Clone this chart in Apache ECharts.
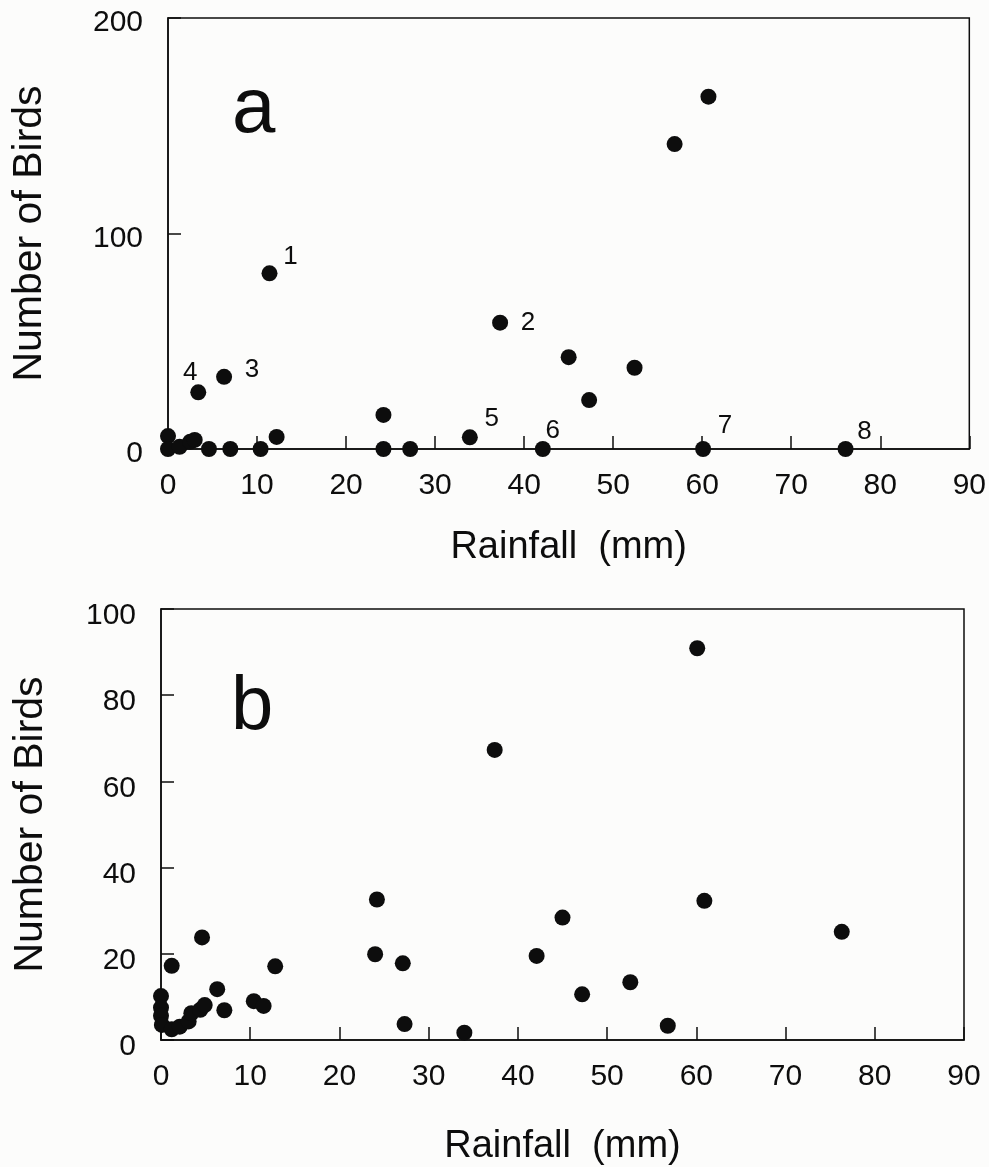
<!DOCTYPE html>
<html>
<head>
<meta charset="utf-8">
<script src="https://cdn.jsdelivr.net/npm/echarts@6/dist/echarts.min.js"></script>
<style>
html,body{margin:0;padding:0;background:#fcfcfb;}
#chart{width:989px;height:1167px;}
</style>
</head>
<body>
<div id="chart"></div>
<script>
// ---- Data ----
// Panel a: rainfall (mm) vs number of birds
const rainA  = [60.7, 56.9, 11.4, 37.3, 45.0, 52.4, 47.3, 6.3, 3.4, 24.2, 33.9, 12.2, 0, 0, 1.3, 2.5, 3.0, 4.6, 7.0, 10.4, 24.2, 27.2, 42.1, 60.1, 76.1];
const birdsA = [163.5, 141.5, 81.5, 58.6, 42.6, 37.7, 22.7, 33.5, 26.3, 15.8, 5.4, 5.6, 6.0, 0, 1, 3.4, 4.2, 0, 0, 0, 0, 0, 0, 0, 0];
const tagsA  = ['', '', '1', '2', '', '', '', '3', '4', '', '5', '', '', '', '', '', '', '', '', '', '', '', '6', '7', '8'];

// Panel b: rainfall (mm) vs number of birds
const rainB  = [60.1, 37.4, 24.2, 60.9, 45.0, 76.3, 4.6, 42.1, 24.0, 27.1, 1.2, 12.8, 52.6, 47.2, 6.3, 10.4, 11.5, 27.3, 34.0, 56.8, 0, 0, 0, 0.1, 1.2, 2.1, 3.1, 3.4, 4.4, 4.9, 7.1];
const birdsB = [90.9, 67.3, 32.6, 32.3, 28.4, 25.1, 23.8, 19.5, 19.9, 17.8, 17.2, 17.1, 13.4, 10.6, 11.8, 9.0, 7.9, 3.7, 1.7, 3.3, 10.2, 7.5, 5.6, 3.5, 2.5, 3.1, 4.3, 6.2, 7.0, 8.1, 6.9];

// Axis tick labels
const xTicks  = [0, 10, 20, 30, 40, 50, 60, 70, 80, 90];
const yTicksA = [0, 100, 200];
const yTicksB = [0, 20, 40, 60, 80, 100];

const xTitle = 'Rainfall  (mm)';
const yTitle = 'Number of Birds';
const panelNames = ['a', 'b'];

// ---- Styling (positions of the numbered annotations) ----
const tagOffset = {
  '1': [21, -17], '2': [28, 0], '3': [28, -7], '4': [-8, -19],
  '5': [22, -19], '6': [10, -18], '7': [22, -23], '8': [19, -17]
};

const FONT = '"Liberation Sans", Arial, Helvetica, sans-serif';
const INK = '#0d0d0d';

function pts(xs, ys, tags) {
  return xs.map((x, i) => {
    const item = { value: [x, ys[i]] };
    const t = tags && tags[i];
    if (t) {
      item.label = {
        show: true, formatter: t, position: 'inside', offset: tagOffset[t],
        color: INK, fontFamily: FONT, fontSize: 26, opacity: 1
      };
    }
    return item;
  });
}

function xAxis(gridIndex, ticks, margin, nameGap) {
  return {
    type: 'value', gridIndex, min: ticks[0], max: ticks[ticks.length - 1], interval: ticks[1] - ticks[0],
    axisLine: { show: true, lineStyle: { color: INK, width: 1.5 } },
    axisTick: { show: true, inside: true, length: 13, lineStyle: { color: INK, width: 1.5 } },
    axisLabel: { show: true, interval: 0, margin, color: INK, fontFamily: FONT, fontSize: 30,
                 showMinLabel: true, showMaxLabel: true },
    splitLine: { show: false },
    name: xTitle, nameLocation: 'middle', nameGap,
    nameTextStyle: { color: INK, fontFamily: FONT, fontSize: 38 }
  };
}

function yAxis(gridIndex, ticks, shift, nameGap) {
  return {
    type: 'value', gridIndex, min: ticks[0], max: ticks[ticks.length - 1], interval: ticks[1] - ticks[0],
    axisLine: { show: true, lineStyle: { color: INK, width: 1.5 } },
    axisTick: { show: true, inside: true, length: 13, lineStyle: { color: INK, width: 1.5 } },
    axisLabel: { show: true, margin: 25, color: INK, fontFamily: FONT, fontSize: 30,
                 verticalAlign: 'top', lineHeight: shift * 2, showMinLabel: true, showMaxLabel: true },
    splitLine: { show: false },
    name: yTitle, nameLocation: 'middle', nameGap,
    nameTextStyle: { color: INK, fontFamily: FONT, fontSize: 41 }
  };
}

const chart = echarts.init(document.getElementById('chart'), null, { renderer: 'canvas' });
chart.setOption({
  backgroundColor: '#fcfcfb',
  animation: false,
  grid: [
    { left: 168, top: 18, width: 802, height: 431, show: true, borderColor: INK, borderWidth: 1.5, backgroundColor: 'transparent' },
    { left: 161, top: 609, width: 803, height: 431, show: true, borderColor: INK, borderWidth: 1.5, backgroundColor: 'transparent' }
  ],
  xAxis: [ xAxis(0, xTicks, 22, 80), xAxis(1, xTicks, 22, 88) ],
  yAxis: [ yAxis(0, yTicksA, 5, 118), yAxis(1, yTicksB, 7, 110) ],
  graphic: [
    { type: 'text', left: 232, top: 71, style: { text: panelNames[0], font: '78px ' + FONT, fill: INK } },
    { type: 'text', left: 231, top: 670, style: { text: panelNames[1], font: '76px ' + FONT, fill: INK } }
  ],
  series: [
    { type: 'scatter', xAxisIndex: 0, yAxisIndex: 0, symbol: 'circle', symbolSize: 16, clip: false,
      itemStyle: { color: INK, opacity: 1 }, data: pts(rainA, birdsA, tagsA) },
    { type: 'scatter', xAxisIndex: 1, yAxisIndex: 1, symbol: 'circle', symbolSize: 16, clip: false,
      itemStyle: { color: INK, opacity: 1 }, data: pts(rainB, birdsB, null) }
  ]
});
</script>
</body>
</html>
